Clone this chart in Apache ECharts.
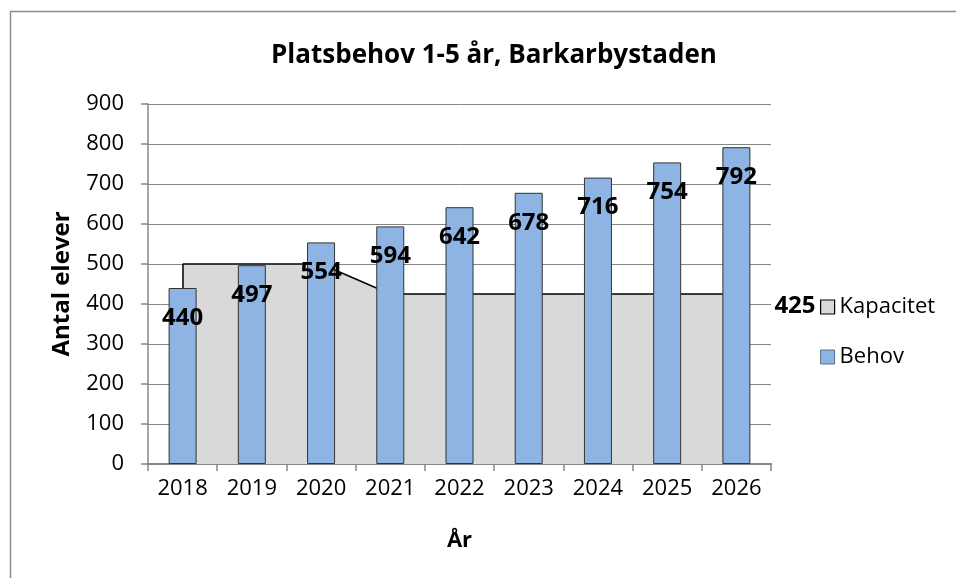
<!DOCTYPE html>
<html>
<head>
<meta charset="utf-8">
<script src="https://cdn.jsdelivr.net/npm/echarts@6/dist/echarts.min.js"></script>
<style>
  html, body { margin: 0; padding: 0; background: #fff; }
  #main { width: 956px; height: 578px; }
</style>
</head>
<body>
<div id="main"></div>
<script>
const years = ['2018', '2019', '2020', '2021', '2022', '2023', '2024', '2025', '2026'];
const kapacitet = [500, 500, 500, 425, 425, 425, 425, 425, 425];
const behov = [440, 497, 554, 594, 642, 678, 716, 754, 792];

const font = 'Open Sans';

const chart = echarts.init(document.getElementById('main'));

const option = {
  animation: false,
  textStyle: { fontFamily: font, color: '#000' },
  title: {
    text: 'Platsbehov 1-5 år, Barkarbystaden',
    left: 489,
    textAlign: 'center',
    top: 38,
    textStyle: { fontFamily: font, fontSize: 26, fontWeight: 'bold', color: '#000' }
  },
  graphic: [{
    type: 'rect',
    shape: { x: 10.5, y: 11.5, width: 1000, height: 1000 },
    style: { fill: 'none', stroke: '#8c8c8c', lineWidth: 1.5 },
    silent: true
  }],
  legend: {
    orient: 'vertical',
    left: 815,
    top: 291,
    itemWidth: 14,
    itemHeight: 14,
    itemGap: 28,
    textStyle: { fontFamily: font, fontSize: 22, color: '#000' },
    data: [
      { name: 'Kapacitet', icon: 'rect', itemStyle: { color: '#d9d9d9', borderColor: '#000', borderWidth: 1.2 } },
      { name: 'Behov', icon: 'rect', itemStyle: { color: '#8eb4e3', borderColor: '#5a6f8a', borderWidth: 1 } }
    ]
  },
  grid: { left: 148, right: 185, top: 104, bottom: 114 },
  xAxis: {
    type: 'category',
    data: years,
    name: 'År',
    nameLocation: 'middle',
    nameGap: 66,
    nameTextStyle: { fontFamily: font, fontSize: 22, fontWeight: 'bold', color: '#000' },
    axisLine: { lineStyle: { color: '#868686', width: 2 } },
    axisTick: { show: true, length: 7, lineStyle: { color: '#868686', width: 1.5 } },
    axisLabel: { fontFamily: font, fontSize: 22, color: '#000', margin: 14 }
  },
  yAxis: {
    type: 'value',
    min: 0,
    max: 900,
    interval: 100,
    name: 'Antal elever',
    nameLocation: 'middle',
    nameRotate: 90,
    nameGap: 74,
    nameTextStyle: { fontFamily: font, fontSize: 24, fontWeight: 'bold', color: '#000' },
    axisLine: { show: true, lineStyle: { color: '#868686', width: 1.5 } },
    axisTick: { show: true, length: 7, lineStyle: { color: '#868686', width: 1.5 } },
    axisLabel: { fontFamily: font, fontSize: 22, color: '#000', margin: 24 },
    splitLine: { lineStyle: { color: '#868686', width: 1 } }
  },
  series: [
    {
      name: 'Kapacitet',
      type: 'line',
      z: 1,
      symbol: 'none',
      data: kapacitet,
      lineStyle: { color: '#000', width: 1.5 },
      itemStyle: { color: '#d9d9d9' },
      areaStyle: { color: '#d9d9d9', opacity: 1 },
      endLabel: {
        show: true,
        distance: 38,
        offset: [0, 12],
        formatter: p => p.value,
        fontFamily: font,
        fontSize: 24,
        fontWeight: 'bold',
        color: '#000'
      },
      markLine: {
        silent: true,
        symbol: 'none',
        label: { show: false },
        lineStyle: { color: '#000', width: 1.5, type: 'solid' },
        data: [[{ coord: [years[0], 0] }, { coord: [years[0], kapacitet[0]] }]]
      }
    },
    {
      name: 'Behov',
      type: 'bar',
      zlevel: 1,
      barWidth: 28,
      data: behov,
      itemStyle: { color: '#8eb4e3', borderColor: '#333', borderWidth: 1 },
      label: {
        show: true,
        position: 'insideTop',
        distance: 18,
        fontFamily: font,
        fontSize: 24,
        fontWeight: 'bold',
        color: '#000'
      }
    }
  ]
};

chart.setOption(option);
</script>
</body>
</html>
